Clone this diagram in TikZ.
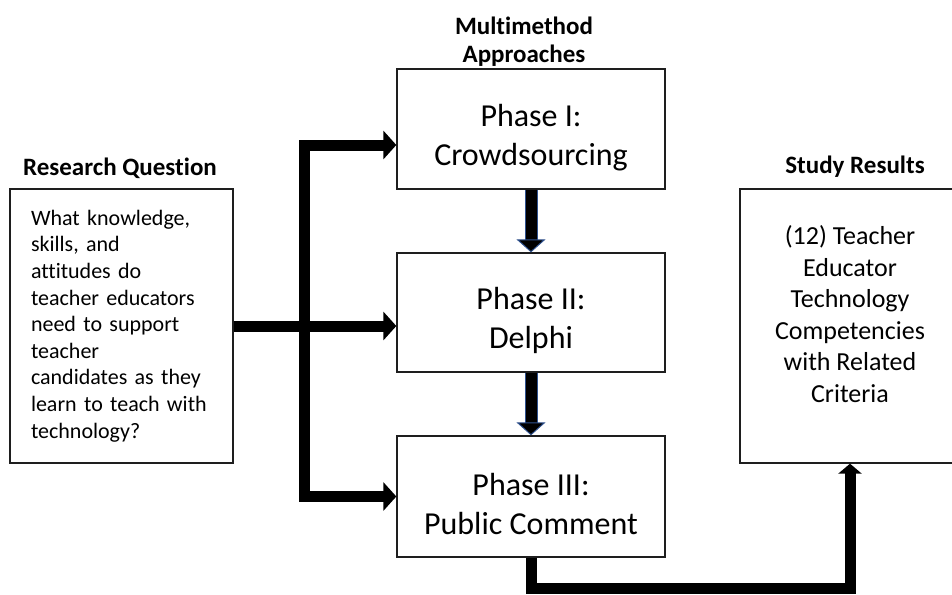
\documentclass[tikz,border=0pt]{standalone}
\usepackage{fontspec}
\setmainfont{Carlito}[Ligatures={NoCommon}]
\usetikzlibrary{arrows.meta}
\usetikzlibrary{positioning,calc}
\definecolor{boxgray}{RGB}{30,30,30}
\definecolor{arrowblue}{RGB}{47,82,143}
\tikzset{>={Triangle[length=13pt,width=28pt]}}

\begin{document}
\begin{tikzpicture}[x=1pt,y=-1pt,
  boxline/.style={draw=boxgray, line width=1.3pt, inner sep=0pt},
  phase/.style={boxline, minimum width=268pt, minimum height=120pt},
  phasetext/.style={font=\fontsize{32}{39}\selectfont, align=center, inner sep=0pt},
  heading/.style={font=\fontsize{25}{28}\selectfont\bfseries, align=center, inner sep=0pt},
  feed/.style={line width=11pt, line join=miter},
  phasestep/.style={line width=11pt, -{Triangle[length=13pt,width=29pt,color=arrowblue,fill=black,line width=1pt]},
    preaction={draw=arrowblue, line width=13pt, -, shorten >=12pt}}]
\useasboundingbox (0,0) rectangle (952,594);

%Headings
\node[heading, anchor=base] (rqhead) at (120,175) {Research Question};
\node[heading, anchor=north] (mmhead) at (524,17) {Multimethod\\Approaches};
\node[heading, anchor=base] (reshead) at (855,173) {Study Results};

%Shape: Rectangle (research question)
\node[boxline, minimum width=223pt, minimum height=274pt, text width=181pt, align=left,
  font=\fontsize{22}{26.6}\selectfont] (rq) at (121.5,326)
  {What knowledge,\\skills, and\\attitudes do\\teacher educators\\need to support\\teacher\\candidates as they\\learn to teach with\\technology?};

%Shape: Rectangle (phases)
\node[phase] (p1) at (531,129) {};
\node[phase, minimum height=119pt] (p2) at (531,312.5) {};
\node[phase, minimum height=121pt] (p3) at (531,496.5) {};
\node[phasetext] (p1text) at (531,138) {Phase I:\\Crowdsourcing};
\node[phasetext] (p2text) at (531,320) {Phase II:\\Delphi};
\node[phasetext] (p3text) at (531,504) {Phase III:\\Public Comment};

%Shape: Rectangle (study results)
\node[boxline, minimum width=220pt, minimum height=274pt] (res) at (850,326) {};
\node[align=center, inner sep=0pt, font=\fontsize{26}{31.5}\selectfont] (restext) at (850,314)
  {(12) Teacher\\Educator\\Technology\\Competencies\\with Related\\Criteria};

%Connectors
\coordinate (fork) at (304,145);
\coordinate (low) at (531,588);
\draw[feed, <->] (fork -| p1.west) -- (fork) -- (fork |- p3.west) -- (p3.west);
\draw[feed, ->] (rq.east) -- (rq.east -| p2.west);
\draw[phasestep] (p1.south) -- (p2.north);
\draw[phasestep] (p2.south) -- (p3.north);
\draw[feed, -{Triangle[length=10pt,width=23pt]}] (p3.south) -- (low) -| (res.south);
\end{tikzpicture}
\end{document}
